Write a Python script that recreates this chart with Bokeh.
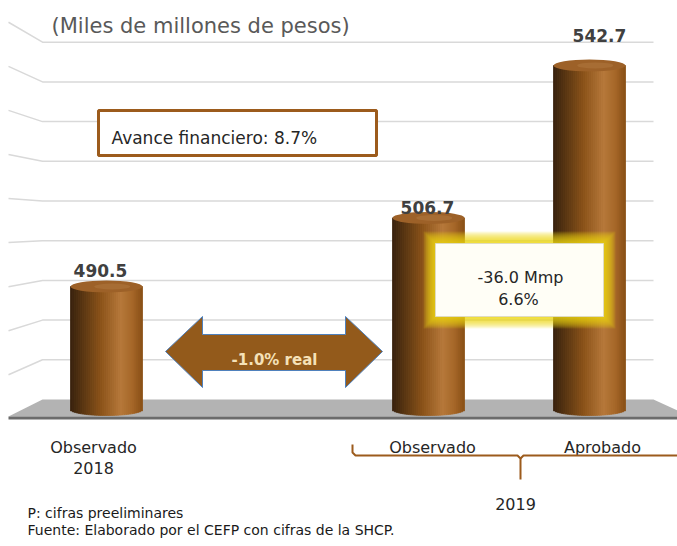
import math
from bokeh.plotting import figure
from bokeh.models import Range1d, Label, ColumnDataSource
from bokeh.embed import file_html
from bokeh.resources import INLINE
from bokeh.core.properties import value

# ---------------- data ----------------
categories = ["Observado 2018", "Observado 2019", "Aprobado 2019"]
values = [490.5, 506.7, 542.7]
value_labels = ["490.5", "506.7", "542.7"]
cat_line1 = ["Observado", "Observado", "Aprobado"]
cat_line2 = ["2018", "", ""]
group_label = "2019"
wall_ticks = [460, 470, 480, 490, 500, 510, 520, 530, 540, 550]
title_text = "(Miles de millones de pesos)"
note_avance = "Avance financiero: 8.7%"
note_diff = ["-36.0 Mmp", "6.6%"]
note_arrow = "-1.0% real"
footnotes = ["P: cifras preeliminares",
             "Fuente: Elaborado por el CEFP con cifras de la SHCP."]

# ---------------- layout ----------------
W, H = 677, 538
TOP = 8                     # page y of the canvas top
slots = [0, 2, 3]           # category slots (slot 1 left empty)
PX_U = 161.0                # px per slot
X0 = 106.0                  # page x of slot 0
PX_V = 4.234                # px per value unit (front plane)
V_REF, Y_REF = 490.5, 294.0
FONT = "DejaVu Sans"


def X(ix):
    return (ix - X0) / PX_U


def Y(iy):
    return V_REF + (Y_REF - iy) / PX_V


def wall(t):
    # back-wall (perspective) position of an axis tick
    return Y(407 - 3.97 * (t - wall_ticks[0]))


p = figure(width=W, height=H, x_range=Range1d(X(0), X(W)),
           y_range=Range1d(Y(TOP + H), Y(TOP)), output_backend="svg",
           toolbar_location=None, min_border=0, x_axis_type=None,
           y_axis_type=None)
p.grid.visible = False
p.outline_line_color = None
p.background_fill_color = "white"
p.border_fill_color = "white"

# ---- gridlines on the back wall, with perspective side segments ----
xs, ys = [], []
for t in wall_ticks[1:]:
    yv = wall(t)
    iy = Y_REF - (yv - V_REF) * PX_V
    off = 0.11 * (iy - 231)
    xs.append([X(8), X(42), X(653)])
    ys.append([Y(iy + off), yv, yv])
p.multi_line(xs, ys, line_color="#d9d9d9", line_width=1.5)

# ---- floor ----
fy_back = wall(wall_ticks[0])
p.patch([X(8), X(42), X(653), X(677), X(677), X(8)],
        [Y(424), fy_back, fy_back, Y(418), Y(424), Y(424)],
        fill_color="#b3b3b3", line_color=None)
p.line([X(8), X(677)], [Y(425.5), Y(425.5)], line_color="#6b6b6b",
       line_width=3)

# ---- cylinders ----
BW = 72 / PX_U
E = 6 / PX_V                 # half height of the elliptical ends
BASE = Y(417)
stops = [(0.0, (56, 33, 13)), (0.12, (78, 47, 16)), (0.42, (138, 82, 24)),
         (0.7, (182, 120, 58)), (0.86, (166, 103, 40)), (1.0, (138, 80, 22))]


def shade(s):
    for (a, ca), (b, cb) in zip(stops[:-1], stops[1:]):
        if a <= s <= b:
            f = (s - a) / (b - a)
            c = [int(ca[k] + (cb[k] - ca[k]) * f) for k in range(3)]
            return "#%02x%02x%02x" % tuple(c)
    return "#%02x%02x%02x" % stops[-1][1]


N = 36
L, R, T, B, C = [], [], [], [], []
for sx, v in zip(slots, values):
    for i in range(N):
        s = (i + 0.5) / N
        off = -BW / 2 + s * BW
        r = 2 * off / BW
        L.append(sx + off - BW / N * 0.5)
        R.append(sx + off + BW / N * 0.5)
        T.append(v)
        B.append(BASE - E * math.sqrt(max(0.0, 1 - r * r)))
        C.append(shade(s))
src = ColumnDataSource(dict(left=L, right=R, top=T, bottom=B, color=C))
p.quad(left="left", right="right", top="top", bottom="bottom", source=src,
       fill_color="color", line_color="color", line_width=0.8)
p.ellipse(x=slots, y=values, width=BW, height=2 * E,
          fill_color="#9d6128", line_color=None)
p.ellipse(x=[s + BW * 0.08 for s in slots], y=values, width=BW * 0.5,
          height=E * 1.0, fill_color="#b27a40", fill_alpha=0.5,
          line_color=None)

# ---- value labels ----
lab_dy = [16, 10, 30]
lab_dx = [-6, -1, 10]
p.text(x=[s + dx / PX_U for s, dx in zip(slots, lab_dx)],
       y=[v + dy / PX_V for v, dy in zip(values, lab_dy)],
       text=value_labels, text_font=value(FONT), text_font_size=value("17px"),
       text_font_style="bold", text_color="#404040", text_align="center",
       text_baseline="alphabetic")

# ---- category labels ----
cat_dx = [-13, 4, 13]
cx = [s + dx / PX_U for s, dx in zip(slots, cat_dx)]
p.text(x=cx, y=[Y(455)] * 3, text=cat_line1, text_font=value(FONT),
       text_font_size=value("16px"), text_color="#262626", text_align="center",
       text_baseline="alphabetic")
p.text(x=cx, y=[Y(475)] * 3, text=cat_line2, text_font=value(FONT),
       text_font_size=value("16px"), text_color="#262626", text_align="center",
       text_baseline="alphabetic")

# ---- 2019 bracket ----
brown = "#9c5b1c"
p.line([X(352), X(352), X(355), X(517), X(520), X(520)],
       [Y(452), Y(460), Y(463), Y(463), Y(466), Y(487)],
       line_color=brown, line_width=2)
p.line([X(520), X(523), X(677)], [Y(466), Y(463), Y(463)],
       line_color=brown, line_width=2)
p.add_layout(Label(x=X(515), y=Y(511), text=group_label, text_font=FONT,
                   text_font_size="16px", text_color="#262626",
                   text_align="center", text_baseline="alphabetic"))

# ---- double arrow ----
ax = [165, 202, 202, 345, 345, 382, 345, 345, 202, 202]
ay = [359, 324, 342, 342, 324, 359, 395, 378, 378, 395]
p.patch([X(a) for a in ax], [Y(b) for b in ay], fill_color="#935a1b",
        line_color="#4f81bd", line_width=1)
p.add_layout(Label(x=X(274), y=Y(367), text=note_arrow, text_font=FONT,
                   text_font_size="15px", text_font_style="bold",
                   text_color="#f5e1b8", text_align="center",
                   text_baseline="alphabetic"))

# ---- "Avance financiero" box ----
p.quad(left=[X(98)], right=[X(376)], top=[Y(118)], bottom=[Y(163)],
       fill_color="white", line_color=brown, line_width=3)
p.add_layout(Label(x=X(111), y=Y(145), text=note_avance, text_font=FONT,
                   text_font_size="17px", text_color="#262626",
                   text_align="left", text_baseline="alphabetic"))

# ---- glowing difference box ----
bl, br, bt, bb = 435, 603, 251, 324
for k in range(12, 0, -1):
    p.quad(left=[X(bl - k)], right=[X(br + k)], top=[Y(bt - k)],
           bottom=[Y(bb + k)], fill_color="#f0da10", fill_alpha=0.13,
           line_color=None)
p.quad(left=[X(bl)], right=[X(br)], top=[Y(bt)], bottom=[Y(bb)],
       fill_color="#fffef6", line_color="#e0dcc0", line_width=1)
p.add_layout(Label(x=X(520), y=Y(285), text=note_diff[0], text_font=FONT,
                   text_font_size="16px", text_color="#262626",
                   text_align="center", text_baseline="alphabetic"))
p.add_layout(Label(x=X(518), y=Y(307), text=note_diff[1], text_font=FONT,
                   text_font_size="16px", text_color="#262626",
                   text_align="center", text_baseline="alphabetic"))

# ---- title and footnotes ----
p.add_layout(Label(x=X(51), y=Y(33), text=title_text, text_font=FONT,
                   text_font_size="21px", text_color="#595959",
                   text_align="left", text_baseline="alphabetic"))
p.add_layout(Label(x=X(27), y=Y(520), text=footnotes[0], text_font=FONT,
                   text_font_size="14px", text_color="#1a1a1a",
                   text_align="left", text_baseline="alphabetic"))
p.add_layout(Label(x=X(27), y=Y(537), text=footnotes[1], text_font=FONT,
                   text_font_size="14px", text_color="#1a1a1a",
                   text_align="left", text_baseline="alphabetic"))

open("out.html", "w").write(file_html(p, INLINE))
